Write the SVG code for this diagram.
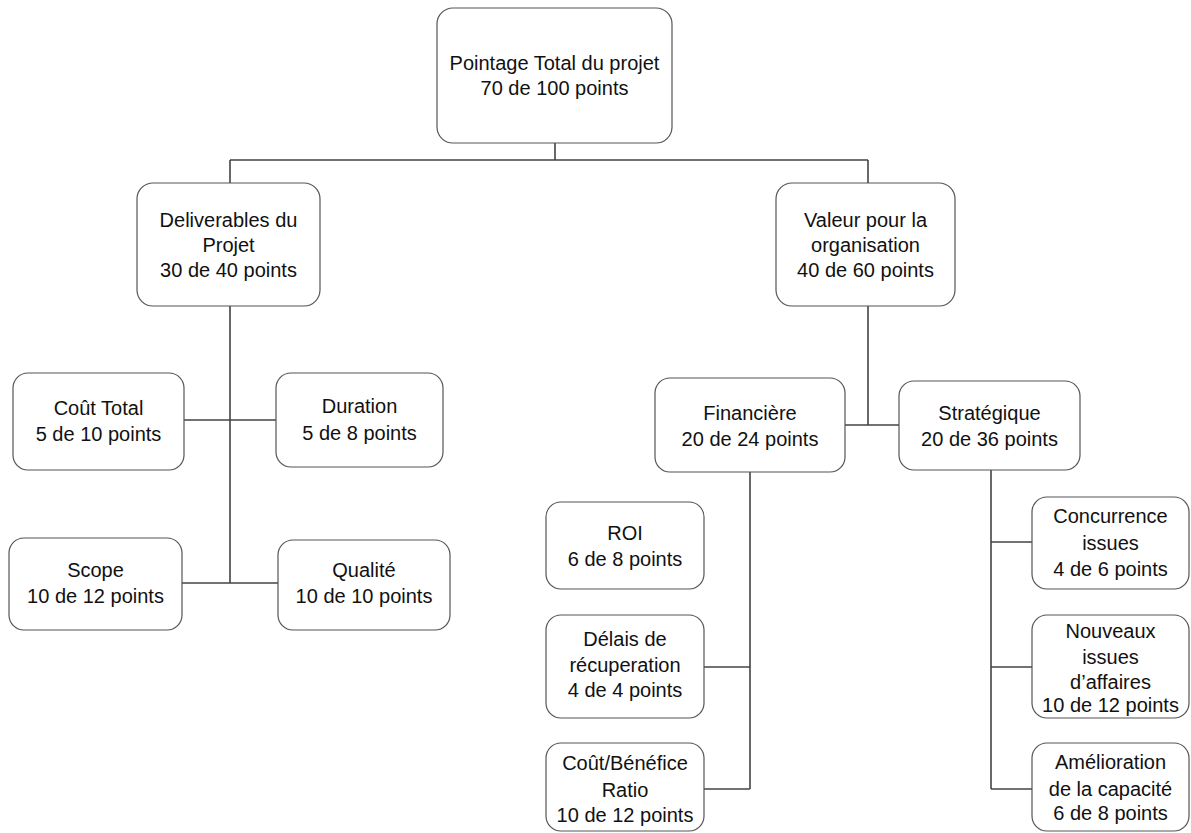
<svg xmlns="http://www.w3.org/2000/svg" width="1191" height="833" viewBox="0 0 1191 833">
<style>
.box{fill:#fff;stroke:#555;stroke-width:1.2}
.t{font-family:"Liberation Sans",Arial,sans-serif;font-size:20px;fill:#111;text-anchor:middle}
.c{fill:none;stroke:#444;stroke-width:1.6}
</style>
<rect width="1191" height="833" fill="#fff"/>
<g id="connectors">
<path class="c" d="M555,143V160M230,160H868M230,160V183M868,160V183"/>
<path class="c" d="M230,306V583M184,420H276M182,583H278"/>
<path class="c" d="M868,306V425M845,425H899"/>
<path class="c" d="M750,472V789M704,667H750M704,789H750"/>
<path class="c" d="M991,470V789M991,542H1032M991,667H1032M991,789H1032"/>
</g>
<g id="n-total"><rect class="box" x="437" y="8" width="235" height="135" rx="16"/><text class="t" x="554.5" y="70">Pointage Total du projet</text><text class="t" x="554.5" y="95">70 de 100 points</text></g>
<g id="n-deliverables"><rect class="box" x="137" y="183" width="183" height="123" rx="16"/><text class="t" x="228.5" y="227">Deliverables du</text><text class="t" x="228.5" y="252">Projet</text><text class="t" x="228.5" y="277">30 de 40 points</text></g>
<g id="n-valeur"><rect class="box" x="776" y="183" width="179" height="123" rx="16"/><text class="t" x="865.5" y="227">Valeur pour la</text><text class="t" x="865.5" y="252">organisation</text><text class="t" x="865.5" y="277">40 de 60 points</text></g>
<g id="n-cout"><rect class="box" x="13" y="373" width="171" height="97" rx="15"/><text class="t" x="98.5" y="415">Coût Total</text><text class="t" x="98.5" y="441">5 de 10 points</text></g>
<g id="n-duration"><rect class="box" x="276" y="373" width="167" height="94" rx="15"/><text class="t" x="359.5" y="413">Duration</text><text class="t" x="359.5" y="440">5 de 8 points</text></g>
<g id="n-scope"><rect class="box" x="9" y="538" width="173" height="92" rx="15"/><text class="t" x="95.5" y="577">Scope</text><text class="t" x="95.5" y="603">10 de 12 points</text></g>
<g id="n-qualite"><rect class="box" x="278" y="540" width="172" height="90" rx="15"/><text class="t" x="364" y="577">Qualité</text><text class="t" x="364" y="603">10 de 10 points</text></g>
<g id="n-financiere"><rect class="box" x="655" y="378" width="190" height="94" rx="15"/><text class="t" x="750" y="420">Financière</text><text class="t" x="750" y="446">20 de 24 points</text></g>
<g id="n-strategique"><rect class="box" x="899" y="381" width="181" height="89" rx="15"/><text class="t" x="989.5" y="420">Stratégique</text><text class="t" x="989.5" y="446">20 de 36 points</text></g>
<g id="n-roi"><rect class="box" x="546" y="502" width="158" height="87" rx="15"/><text class="t" x="625" y="540">ROI</text><text class="t" x="625" y="566">6 de 8 points</text></g>
<g id="n-delais"><rect class="box" x="546" y="615" width="158" height="103" rx="15"/><text class="t" x="625" y="646">Délais de</text><text class="t" x="625" y="672">récuperation</text><text class="t" x="625" y="697">4 de 4 points</text></g>
<g id="n-coutbenefice"><rect class="box" x="546" y="743" width="158" height="88" rx="15"/><text class="t" x="625" y="770">Coût/Bénéfice</text><text class="t" x="625" y="797">Ratio</text><text class="t" x="625" y="822">10 de 12 points</text></g>
<g id="n-concurrence"><rect class="box" x="1032" y="497" width="157" height="92" rx="15"/><text class="t" x="1110.5" y="523">Concurrence</text><text class="t" x="1110.5" y="550">issues</text><text class="t" x="1110.5" y="576">4 de 6 points</text></g>
<g id="n-nouveaux"><rect class="box" x="1032" y="615" width="157" height="103" rx="15"/><text class="t" x="1110.5" y="638">Nouveaux</text><text class="t" x="1110.5" y="664">issues</text><text class="t" x="1110.5" y="689">d’affaires</text><text class="t" x="1110.5" y="712">10 de 12 points</text></g>
<g id="n-amelioration"><rect class="box" x="1032" y="743" width="157" height="88" rx="15"/><text class="t" x="1110.5" y="769">Amélioration</text><text class="t" x="1110.5" y="796">de la capacité</text><text class="t" x="1110.5" y="820">6 de 8 points</text></g>
</svg>
